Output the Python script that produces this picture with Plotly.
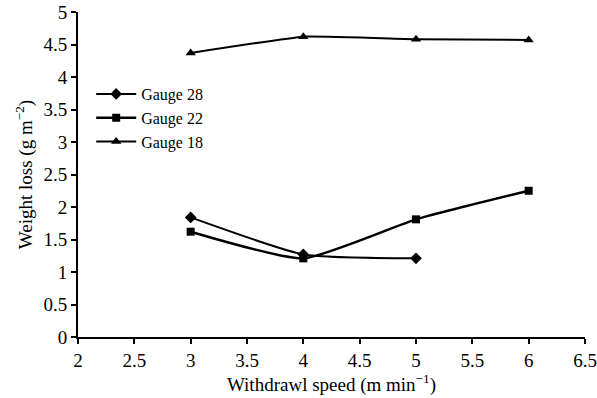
import plotly.graph_objects as go

g28_x = [3, 4, 5]
g28_y = [1.84, 1.27, 1.21]
g22_x = [3, 4, 5, 6]
g22_y = [1.62, 1.21, 1.81, 2.25]
g18_x = [3, 4, 5, 6]
g18_y = [4.37, 4.62, 4.58, 4.57]
x_ticks = [2, 2.5, 3, 3.5, 4, 4.5, 5, 5.5, 6, 6.5]
y_ticks = [0, 0.5, 1, 1.5, 2, 2.5, 3, 3.5, 4, 4.5, 5]

font = "Liberation Serif"
fig = go.Figure()
fig.add_trace(go.Scatter(x=g28_x, y=g28_y, name="Gauge 28", mode="lines+markers",
                         line=dict(color="black", width=2, shape="spline", smoothing=0.5),
                         marker=dict(symbol="diamond", size=9, color="black")))
fig.add_trace(go.Scatter(x=g22_x, y=g22_y, name="Gauge 22", mode="lines+markers",
                         line=dict(color="black", width=2.5, shape="spline", smoothing=0.5),
                         marker=dict(symbol="square", size=8, color="black")))
fig.add_trace(go.Scatter(x=g18_x, y=g18_y, name="Gauge 18", mode="lines+markers",
                         line=dict(color="black", width=2, shape="spline", smoothing=0.3),
                         marker=dict(symbol="triangle-up", size=9, color="black")))

axis_common = dict(showgrid=False, zeroline=False, showline=True, linecolor="black", linewidth=2,
                   ticks="outside", ticklen=5, tickwidth=2, tickcolor="black", automargin=False,
                   tickfont=dict(family=font, size=19, color="black"))
fig.update_xaxes(range=[2, 6.5], tickvals=x_ticks, ticktext=[f"{v:g}" for v in x_ticks],
                 title=dict(text="Withdrawl speed (m min<sup>−1</sup>)", font=dict(family=font, size=19, color="black"), standoff=2),
                 **axis_common)
fig.update_yaxes(range=[0, 5], tickvals=y_ticks, ticktext=[f"{v:g}" for v in y_ticks],
                 title=dict(text="Weight loss (g m<sup>−2</sup>)", font=dict(family=font, size=19, color="black"), standoff=6),
                 **axis_common)
fig.update_layout(width=597, height=398, plot_bgcolor="white", paper_bgcolor="white",
                  margin=dict(l=78, r=12, t=12, b=61),
                  legend=dict(x=0.026, y=0.80, xanchor="left", yanchor="top",
                              font=dict(family=font, size=16, color="black"),
                              bgcolor="rgba(0,0,0,0)", tracegroupgap=0, itemwidth=40),
                  showlegend=True)
# remove the page's default 8px body margin so the figure fills the window exactly
fig.write_html("out.html", config={"displayModeBar": False},
               post_script="document.body.style.margin='0';document.body.style.overflow='hidden';")
